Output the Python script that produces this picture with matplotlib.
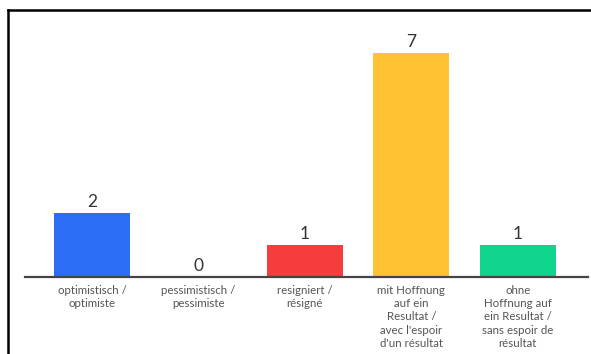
import matplotlib.pyplot as plt
from matplotlib.lines import Line2D

categories = [
    "optimistisch /\noptimiste",
    "pessimistisch /\npessimiste",
    "resigniert /\nrésigné",
    "mit Hoffnung\nauf ein\nResultat /\navec l'espoir\nd'un résultat",
    "ohne\nHoffnung auf\nein Resultat /\nsans espoir de\nrésultat",
]
counts = [2, 0, 1, 7, 1]
colors = ["#2b6ef5", "#2b6ef5", "#f53d3d", "#ffc233", "#0fd48b"]

W, H = 591, 354
fig = plt.figure(figsize=(W / 100, H / 100), dpi=100)
fig.patch.set_facecolor("white")

# axes placed in pixel units: baseline at y=277 from top
left, right = 25, 588
base, top = 277, 21
ax = fig.add_axes([left / W, (H - base) / H, (right - left) / W, (base - top) / H])
ax.set_xlim(-0.63, 4.66)
ax.set_ylim(0, 8)

x = range(len(categories))
ax.bar(x, counts, width=0.715, color=colors)

for i, v in enumerate(counts):
    ax.annotate(str(v), (i, v), xytext=(0, 2.5), textcoords="offset points",
                ha="center", va="bottom", fontsize=12.5, color="#333333",
                family="Lato")

for s in ["top", "right", "left"]:
    ax.spines[s].set_visible(False)
ax.spines["bottom"].set_color("#444444")
ax.spines["bottom"].set_linewidth(1.6)
ax.set_yticks([])
ax.set_xticks(list(x))
ax.set_xticklabels(categories, fontsize=8.3, color="#555555", family="Lato",
                   linespacing=1.27)
ax.tick_params(axis="x", length=0, pad=5.5)

# outer frame (top and left edges only)
fig.add_artist(Line2D([8 / W, 1], [1 - 10 / H, 1 - 10 / H], color="black", lw=1.8))
fig.add_artist(Line2D([8 / W, 8 / W], [0, 1 - 10 / H], color="black", lw=1.8))

fig.savefig("out.png", dpi=100)
